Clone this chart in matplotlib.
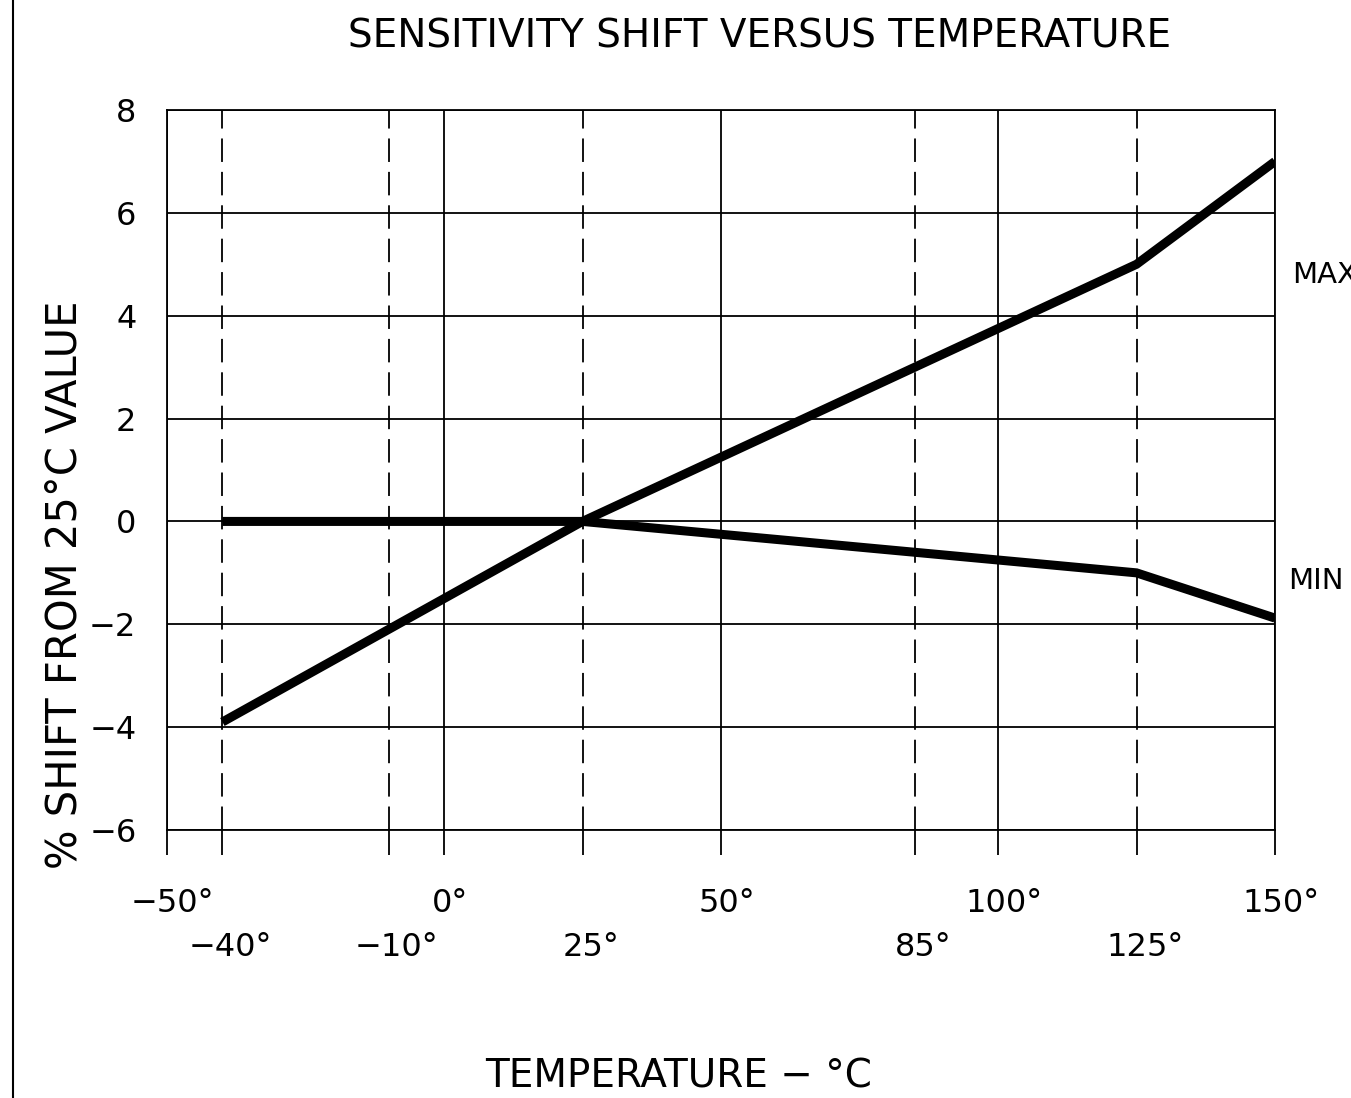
import matplotlib
matplotlib.use("Agg")
import matplotlib.pyplot as plt
from matplotlib.lines import Line2D

# curve data
temp_max = [-40, -10, 25, 85, 125, 150]
shift_max = [-3.9, -2.1, 0, 3, 5, 7]
temp_min = [-40, 25, 125, 150]
shift_min = [0, 0, -1, -1.88]

major_x = [-50, 0, 50, 100, 150]
minor_x = [-40, -10, 25, 85, 125]
y_ticks = [-6, -4, -2, 0, 2, 4, 6, 8]

plt.rcParams['font.family'] = ['DejaVu Sans']

W, H = 1351, 1098
fig = plt.figure(figsize=(W / 100, H / 100), dpi=100)
ax = fig.add_axes([167 / W, 1 - 830 / H, (1275 - 167) / W, (830 - 110) / H])

ax.set_xlim(-50, 150)
ax.set_ylim(-6, 8)

lw = 1.3
for x in major_x:
    ax.axvline(x, color='black', lw=lw, zorder=1)
for x in minor_x:
    ax.axvline(x, color='black', lw=lw, linestyle=(0, (13, 5.5)), zorder=1)
for y in y_ticks:
    ax.axhline(y, color='black', lw=lw, zorder=1)

ax.plot(temp_max, shift_max, color='black', lw=6.5, solid_joinstyle='miter',
        solid_capstyle='butt', zorder=3)
ax.plot(temp_min, shift_min, color='black', lw=6.5, solid_joinstyle='miter',
        solid_capstyle='butt', zorder=3)

for s in ax.spines.values():
    s.set_linewidth(lw)

ax.set_xticks(major_x + minor_x)
ax.tick_params(axis='x', length=18, width=lw, direction='out', labelbottom=False)
ax.set_yticks(y_ticks)
ax.set_yticklabels([str(v).replace('-', '\u2212') for v in y_ticks])
ax.tick_params(axis='y', length=0, pad=22, labelsize=23)

# two rows of x labels
tr = ax.get_xaxis_transform()
for x in major_x:
    ax.text(x + 1.0, -82 / 720, str(x).replace('-', '\u2212') + '\u00b0', transform=tr,
            ha='center', va='baseline', fontsize=23)
for x in minor_x:
    ax.text(x + 1.5, -126 / 720, str(x).replace('-', '\u2212') + '\u00b0', transform=tr,
            ha='center', va='baseline', fontsize=23)

ax.text(1292 / W, 1 - 283 / H, 'MAX', transform=fig.transFigure, fontsize=21,
        ha='left', va='baseline')
ax.text(1288 / W, 1 - 589 / H, 'MIN', transform=fig.transFigure, fontsize=21,
        ha='left', va='baseline')

fig.text(760 / W, 1 - 47 / H, 'SENSITIVITY SHIFT VERSUS TEMPERATURE', ha='center',
         va='baseline', fontsize=28)
fig.text(65 / W, 1 - 585 / H, '% SHIFT FROM 25\u00b0C VALUE', rotation=90, ha='center',
         va='center', fontsize=30)
fig.text(679 / W, 1 - 1088 / H, 'TEMPERATURE \u2212 \u00b0C', ha='center', va='baseline',
         fontsize=28)

fig.add_artist(Line2D([13 / W, 13 / W], [0, 1], color='black', lw=1.5,
                      transform=fig.transFigure))

fig.savefig('out.png', dpi=100)
